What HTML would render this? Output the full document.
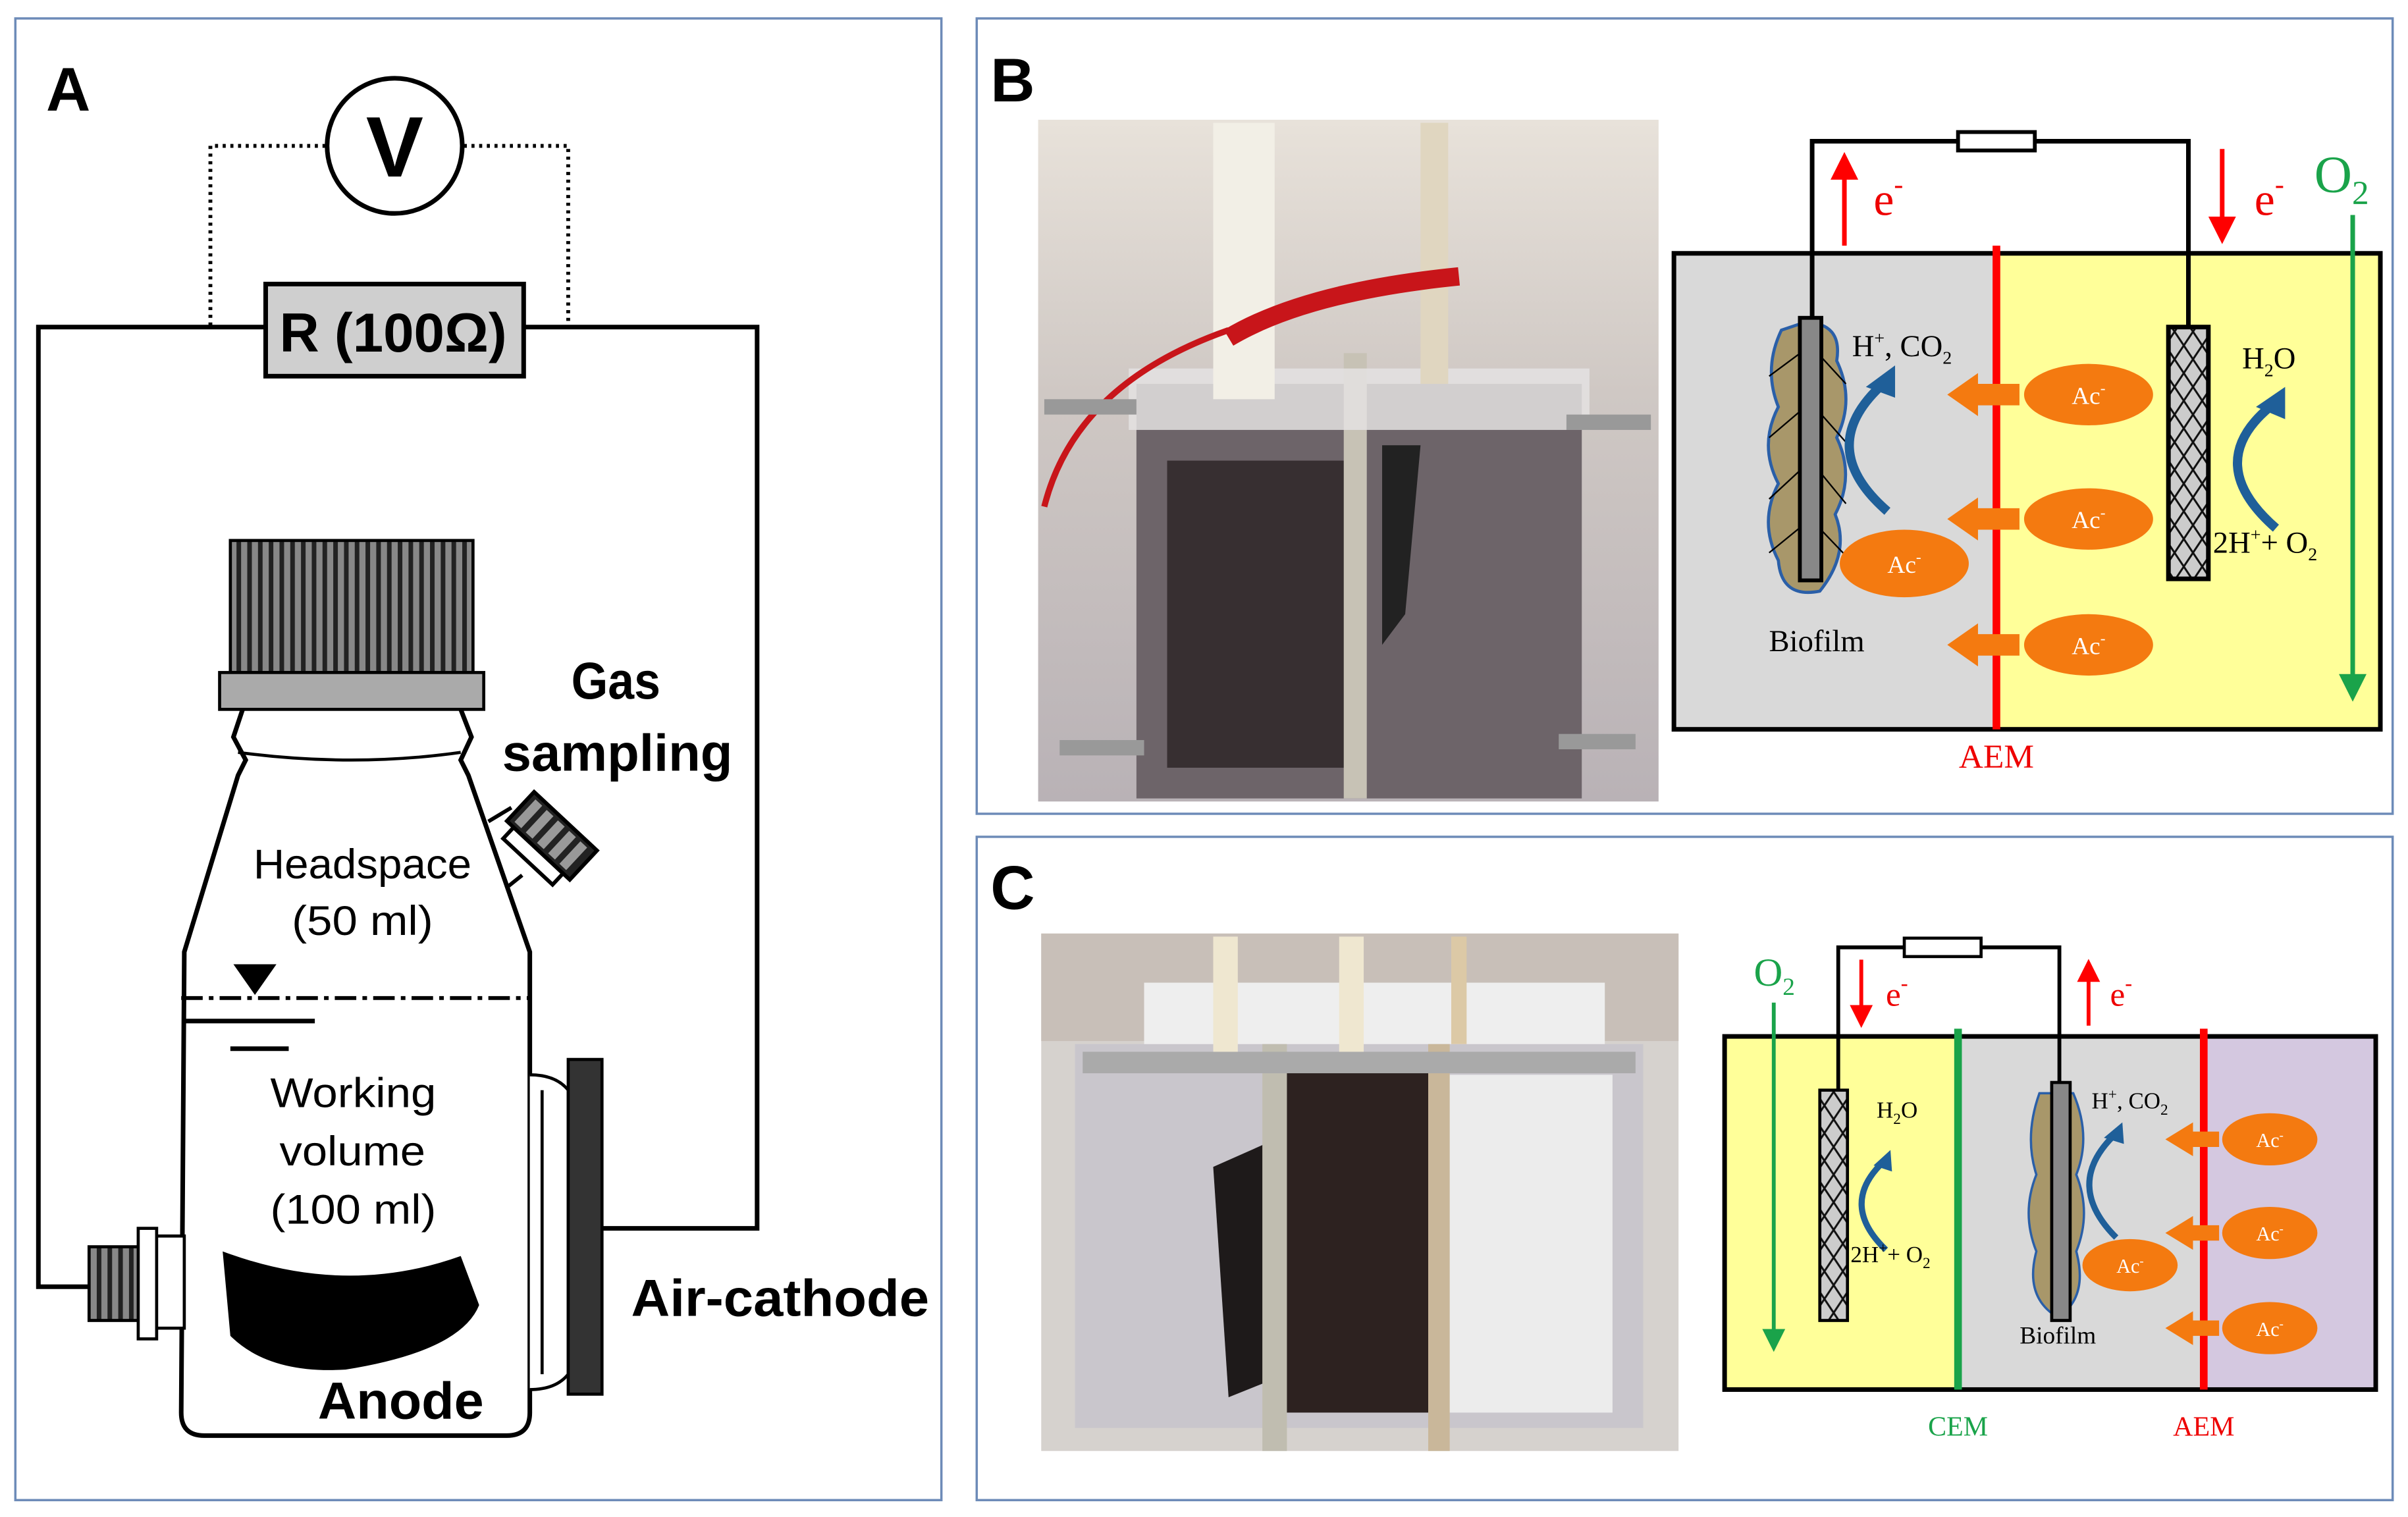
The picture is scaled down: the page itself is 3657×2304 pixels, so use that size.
<!DOCTYPE html>
<html><head><meta charset="utf-8"><style>
html,body{margin:0;padding:0;background:#fff;}
svg{display:block;}
.sa{font-family:"Liberation Sans",sans-serif;}
.se{font-family:"Liberation Serif",serif;}
</style></head><body>
<svg width="3657" height="2304" viewBox="0 0 1568 988" preserveAspectRatio="none" xmlns="http://www.w3.org/2000/svg">
<defs>
<pattern id="stripes" width="7" height="10" patternUnits="userSpaceOnUse"><rect width="7" height="10" fill="#888"/><rect width="3" height="10" fill="#222"/></pattern>
<pattern id="hatch" width="12" height="18" patternUnits="userSpaceOnUse"><rect width="12" height="18" fill="#ccc"/><path d="M0 0L12 18M12 0L0 18" stroke="#111" stroke-width="1.3"/></pattern>
<marker id="ar" markerWidth="6" markerHeight="6" refX="3" refY="3" orient="auto" markerUnits="strokeWidth"><path d="M0 0L6 3L0 6z" fill="context-stroke"/></marker>
<linearGradient id="ph1" x1="0" y1="0" x2="0" y2="1"><stop offset="0" stop-color="#e8e2da"/><stop offset="0.4" stop-color="#cfc8c4"/><stop offset="1" stop-color="#b9b2b6"/></linearGradient>
</defs>
<rect width="1568" height="988" fill="#fff"/>
<rect x="10" y="12" width="603" height="965" fill="none" stroke="#6d8bb8" stroke-width="1.5"/>
<rect x="636" y="12" width="922" height="518" fill="none" stroke="#6d8bb8" stroke-width="1.5"/>
<rect x="636" y="545" width="922" height="432" fill="none" stroke="#6d8bb8" stroke-width="1.5"/>

<!-- PANEL A -->
<text x="30" y="72" class="sa" font-size="40" font-weight="bold">A</text>
<path d="M212 95H137V213M302 95H370V213" fill="none" stroke="#000" stroke-width="2.5" stroke-dasharray="2,3"/>
<circle cx="257" cy="95" r="44" fill="#fff" stroke="#000" stroke-width="3"/>
<text x="257" y="115" class="sa" font-size="56" font-weight="bold" text-anchor="middle">V</text>
<path d="M173 213H25V838H60M341 213H493V800H392" fill="none" stroke="#000" stroke-width="3"/>
<rect x="173" y="185" width="168" height="60" fill="#cfcfcf" stroke="#000" stroke-width="3"/>
<text x="182" y="229" class="sa" font-size="36" font-weight="bold" textLength="148" lengthAdjust="spacingAndGlyphs">R (100Ω)</text>
<path d="M158 462 L152 480 L160 495 L155 505 L120 620 L118 920 Q118 935 133 935 L330 935 Q345 935 345 920 L345 620 L305 505 L300 495 L307 480 L300 462" fill="#fff" stroke="#000" stroke-width="3"/>
<path d="M155 490 Q230 500 300 490" fill="none" stroke="#000" stroke-width="2"/>
<rect x="150" y="352" width="158" height="86" fill="url(#stripes)" stroke="#000" stroke-width="2"/>
<rect x="143" y="438" width="172" height="24" fill="#aaa" stroke="#000" stroke-width="2"/>
<path d="M318 535 L333 526 M330 578 L340 570" stroke="#000" stroke-width="2.5"/>
<g transform="translate(356 548) rotate(-47)">
<rect x="-18" y="-22" width="10" height="44" fill="#fff" stroke="#000" stroke-width="2.5"/>
<rect x="-8" y="-28" width="26" height="56" fill="#222" stroke="#000" stroke-width="2.5"/>
<g fill="#999"><rect x="-5" y="-24" width="20" height="6"/><rect x="-5" y="-14" width="20" height="6"/><rect x="-5" y="-4" width="20" height="6"/><rect x="-5" y="6" width="20" height="6"/><rect x="-5" y="16" width="20" height="6"/></g>
</g>
<path d="M100 805H120V865H100Z" fill="#fff" stroke="#000" stroke-width="2"/>
<rect x="58" y="812" width="34" height="48" fill="url(#stripes)" stroke="#000" stroke-width="2"/>
<rect x="90" y="800" width="12" height="72" fill="#fff" stroke="#000" stroke-width="2"/>
<path d="M345 700 Q362 700 370 710 V895 Q362 905 345 905" fill="#fff" stroke="#000" stroke-width="2"/>
<path d="M353 710 V895" stroke="#000" stroke-width="2"/>
<rect x="370" y="690" width="22" height="218" fill="#333" stroke="#000" stroke-width="2"/>
<text x="372" y="455" class="sa" font-size="34" font-weight="bold" textLength="58" lengthAdjust="spacingAndGlyphs">Gas</text>
<text x="327" y="502" class="sa" font-size="34" font-weight="bold" textLength="150" lengthAdjust="spacingAndGlyphs">sampling</text>
<text x="165" y="572" class="sa" font-size="27" textLength="142" lengthAdjust="spacingAndGlyphs">Headspace</text>
<text x="190" y="609" class="sa" font-size="27" textLength="92" lengthAdjust="spacingAndGlyphs">(50 ml)</text>
<path d="M118 650H345" stroke="#000" stroke-width="2.5" stroke-dasharray="14,4,3,4"/>
<path d="M152 628H180L166 648Z" fill="#000"/>
<path d="M120 665H205M150 683H188" stroke="#000" stroke-width="3"/>
<text x="176" y="721" class="sa" font-size="27" textLength="108" lengthAdjust="spacingAndGlyphs">Working</text>
<text x="182" y="759" class="sa" font-size="27" textLength="95" lengthAdjust="spacingAndGlyphs">volume</text>
<text x="176" y="797" class="sa" font-size="27" textLength="108" lengthAdjust="spacingAndGlyphs">(100 ml)</text>
<path d="M145 815 Q225 845 300 818 L312 850 Q300 880 225 892 Q175 895 150 870 Z" fill="#000"/>
<text x="207" y="924" class="sa" font-size="34" font-weight="bold" textLength="108" lengthAdjust="spacingAndGlyphs">Anode</text>
<text x="411" y="857" class="sa" font-size="34" font-weight="bold" textLength="194" lengthAdjust="spacingAndGlyphs">Air-cathode</text>

<!-- PANEL B -->
<text x="645" y="66" class="sa" font-size="40" font-weight="bold">B</text>
<rect x="676" y="78" width="404" height="444" fill="url(#ph1)"/>
<rect x="740" y="250" width="290" height="270" fill="#6d6469"/>
<rect x="760" y="300" width="120" height="200" fill="#2e2628" opacity="0.85"/>
<path d="M900 290 L925 290 L915 400 L900 420Z" fill="#222"/>
<rect x="875" y="230" width="15" height="290" fill="#c7c2b5"/>
<rect x="735" y="240" width="300" height="40" fill="#e4e2e2" opacity="0.85"/>
<rect x="790" y="80" width="40" height="180" fill="#f2efe6"/>
<rect x="925" y="80" width="18" height="170" fill="#e0d6c0"/>
<path d="M800 220 Q850 190 950 180" stroke="#c8151a" stroke-width="12" fill="none"/>
<path d="M680 330 Q700 250 800 215" stroke="#c8151a" stroke-width="4" fill="none"/>
<rect x="680" y="260" width="60" height="10" fill="#999"/><rect x="1020" y="270" width="55" height="10" fill="#999"/>
<rect x="690" y="482" width="55" height="10" fill="#999"/><rect x="1015" y="478" width="50" height="10" fill="#999"/>
<rect x="1090" y="165" width="210" height="310" fill="#d9d9d9"/>
<rect x="1300" y="165" width="250" height="310" fill="#ffff99"/>
<rect x="1090" y="165" width="460" height="310" fill="none" stroke="#000" stroke-width="3"/>
<path d="M1180 210V92H1425V215" fill="none" stroke="#000" stroke-width="3"/>
<rect x="1275" y="86" width="50" height="12" fill="#fff" stroke="#000" stroke-width="2.5"/>
<line x1="1300" y1="160" x2="1300" y2="475" stroke="#f00" stroke-width="5"/>
<line x1="1201" y1="160" x2="1201" y2="108" stroke="#f00" stroke-width="3" marker-end="url(#ar)"/>
<line x1="1447" y1="97" x2="1447" y2="150" stroke="#f00" stroke-width="3" marker-end="url(#ar)"/>
<text x="1220" y="140" class="se" font-size="30" fill="#e00">e<tspan font-size="18" dy="-14">-</tspan></text>
<text x="1468" y="140" class="se" font-size="30" fill="#e00">e<tspan font-size="18" dy="-14">-</tspan></text>
<text x="1507" y="125" class="se" font-size="34" fill="#1aa34a">O<tspan font-size="22" dy="8">2</tspan></text>
<line x1="1532" y1="140" x2="1532" y2="448" stroke="#1aa34a" stroke-width="3" marker-end="url(#ar)"/>
<path d="M1160 215 Q1148 240 1158 265 Q1145 290 1158 315 Q1145 340 1158 365 Q1160 390 1185 385 Q1205 360 1195 335 Q1208 310 1196 285 Q1208 260 1196 235 Q1200 210 1175 210Z" fill="#a8976a" stroke="#2a5fa8" stroke-width="2"/>
<path d="M1152 245L1179 225L1202 250M1152 285L1179 262L1202 288M1152 325L1179 300L1202 328M1152 360L1179 338L1202 362" fill="none" stroke="#000" stroke-width="1"/>
<rect x="1172" y="207" width="14" height="171" fill="#888" stroke="#000" stroke-width="2.5"/>
<rect x="1412" y="213" width="26" height="164" fill="url(#hatch)" stroke="#000" stroke-width="3"/>
<path d="M1229 333 Q1182 292 1224 252" fill="none" stroke="#1f5f99" stroke-width="6"/>
<path d="M1234 238 L1234 259 L1215 252Z" fill="#1f5f99"/>
<path d="M1482 344 Q1434 302 1478 265" fill="none" stroke="#1f5f99" stroke-width="6"/>
<path d="M1488 252 L1488 273 L1469 265Z" fill="#1f5f99"/>
<g fill="#f47a10">
<path d="M1315 250H1288V243L1268 257L1288 271V264H1315Z"/>
<path d="M1315 331H1288V324L1268 338L1288 352V345H1315Z"/>
<path d="M1315 413H1288V406L1268 420L1288 434V427H1315Z"/>
<ellipse cx="1360" cy="257" rx="42" ry="20"/>
<ellipse cx="1360" cy="338" rx="42" ry="20"/>
<ellipse cx="1360" cy="420" rx="42" ry="20"/>
<ellipse cx="1240" cy="367" rx="42" ry="22"/>
</g>
<g class="se" font-size="16" fill="#fff" text-anchor="middle">
<text x="1360" y="263">Ac<tspan font-size="10" dy="-7">-</tspan></text>
<text x="1360" y="344">Ac<tspan font-size="10" dy="-7">-</tspan></text>
<text x="1360" y="426">Ac<tspan font-size="10" dy="-7">-</tspan></text>
<text x="1240" y="373">Ac<tspan font-size="10" dy="-7">-</tspan></text>
</g>
<text x="1206" y="232" class="se" font-size="20">H<tspan font-size="12" dy="-8">+</tspan><tspan dy="8">, CO</tspan><tspan font-size="12" dy="5">2</tspan></text>
<text x="1460" y="240" class="se" font-size="20">H<tspan font-size="12" dy="5">2</tspan><tspan dy="-5">O</tspan></text>
<text x="1441" y="360" class="se" font-size="20">2H<tspan font-size="12" dy="-8">+</tspan><tspan dy="8">+ O</tspan><tspan font-size="12" dy="5">2</tspan></text>
<text x="1183" y="424" class="se" font-size="20" text-anchor="middle">Biofilm</text>
<text x="1300" y="500" class="se" font-size="22" fill="#e00" text-anchor="middle">AEM</text>

<!-- PANEL C -->
<text x="645" y="592" class="sa" font-size="40" font-weight="bold">C</text>
<rect x="678" y="608" width="415" height="337" fill="#d6d2ce"/>
<rect x="678" y="608" width="415" height="70" fill="#c8bfb8"/>
<rect x="745" y="640" width="300" height="50" fill="#eeeeee"/>
<rect x="700" y="680" width="370" height="250" fill="#c9c6cc"/>
<rect x="835" y="690" width="100" height="230" fill="#2d2220"/>
<rect x="940" y="700" width="110" height="220" fill="#ececec"/>
<path d="M790 760 L835 740 L825 900 L800 910Z" fill="#1e1a1a"/>
<rect x="822" y="680" width="16" height="265" fill="#c0bdb0"/><rect x="930" y="680" width="14" height="265" fill="#c9b79a"/>
<rect x="705" y="685" width="360" height="14" fill="#aaa"/>
<rect x="790" y="610" width="16" height="75" fill="#efe7d0"/><rect x="872" y="610" width="16" height="75" fill="#efe7d0"/><rect x="945" y="610" width="10" height="70" fill="#dcc9a6"/>
<rect x="1123" y="675" width="152" height="230" fill="#ffff99"/>
<rect x="1275" y="675" width="160" height="230" fill="#d9d9d9"/>
<rect x="1435" y="675" width="112" height="230" fill="#d4c8e0"/>
<rect x="1123" y="675" width="424" height="230" fill="none" stroke="#000" stroke-width="3"/>
<path d="M1197 712V617H1341V708" fill="none" stroke="#000" stroke-width="2.5"/>
<rect x="1240" y="611" width="50" height="12" fill="#fff" stroke="#000" stroke-width="2"/>
<line x1="1275" y1="670" x2="1275" y2="905" stroke="#1aa34a" stroke-width="5"/>
<line x1="1435" y1="670" x2="1435" y2="905" stroke="#f00" stroke-width="5"/>
<text x="1142" y="642" class="se" font-size="26" fill="#1aa34a">O<tspan font-size="16" dy="6">2</tspan></text>
<line x1="1155" y1="653" x2="1155" y2="873" stroke="#1aa34a" stroke-width="2.5" marker-end="url(#ar)"/>
<line x1="1212" y1="625" x2="1212" y2="662" stroke="#f00" stroke-width="2.5" marker-end="url(#ar)"/>
<line x1="1360" y1="668" x2="1360" y2="632" stroke="#f00" stroke-width="2.5" marker-end="url(#ar)"/>
<text x="1228" y="655" class="se" font-size="22" fill="#e00">e<tspan font-size="14" dy="-10">-</tspan></text>
<text x="1374" y="655" class="se" font-size="22" fill="#e00">e<tspan font-size="14" dy="-10">-</tspan></text>
<rect x="1185" y="710" width="18" height="150" fill="url(#hatch)" stroke="#000" stroke-width="2"/>
<path d="M1328 712 Q1318 740 1326 765 Q1316 790 1326 815 Q1318 845 1340 858 Q1360 845 1352 815 Q1362 790 1352 765 Q1362 740 1350 712Z" fill="#a8976a" stroke="#2a5fa8" stroke-width="1.5"/>
<rect x="1336" y="705" width="12" height="155" fill="#888" stroke="#000" stroke-width="2"/>
<path d="M1228 814 Q1198 785 1225 758" fill="none" stroke="#1f5f99" stroke-width="4"/>
<path d="M1231 749 L1232 763 L1220 759Z" fill="#1f5f99"/>
<path d="M1378 806 Q1344 772 1376 740" fill="none" stroke="#1f5f99" stroke-width="4"/>
<path d="M1382 731 L1383 745 L1370 741Z" fill="#1f5f99"/>
<g fill="#f47a10">
<path d="M1445 737H1428V731L1410 742L1428 753V747H1445Z"/>
<path d="M1445 798H1428V792L1410 803L1428 814V808H1445Z"/>
<path d="M1445 860H1428V854L1410 865L1428 876V870H1445Z"/>
<ellipse cx="1478" cy="742" rx="31" ry="17"/>
<ellipse cx="1478" cy="803" rx="31" ry="17"/>
<ellipse cx="1478" cy="865" rx="31" ry="17"/>
<ellipse cx="1387" cy="824" rx="31" ry="17"/>
</g>
<g class="se" font-size="13" fill="#fff" text-anchor="middle">
<text x="1478" y="747">Ac<tspan font-size="8" dy="-5">-</tspan></text>
<text x="1478" y="808">Ac<tspan font-size="8" dy="-5">-</tspan></text>
<text x="1478" y="870">Ac<tspan font-size="8" dy="-5">-</tspan></text>
<text x="1387" y="829">Ac<tspan font-size="8" dy="-5">-</tspan></text>
</g>
<text x="1222" y="728" class="se" font-size="15">H<tspan font-size="10" dy="4">2</tspan><tspan dy="-4">O</tspan></text>
<text x="1205" y="822" class="se" font-size="15">2H<tspan font-size="10" dy="-6">+</tspan><tspan dy="6">+ O</tspan><tspan font-size="10" dy="4">2</tspan></text>
<text x="1362" y="722" class="se" font-size="15">H<tspan font-size="10" dy="-6">+</tspan><tspan dy="6">, CO</tspan><tspan font-size="10" dy="4">2</tspan></text>
<text x="1340" y="875" class="se" font-size="16" text-anchor="middle">Biofilm</text>
<text x="1275" y="935" class="se" font-size="18" fill="#1aa34a" text-anchor="middle">CEM</text>
<text x="1435" y="935" class="se" font-size="18" fill="#e00" text-anchor="middle">AEM</text>
</svg>
</body></html>
